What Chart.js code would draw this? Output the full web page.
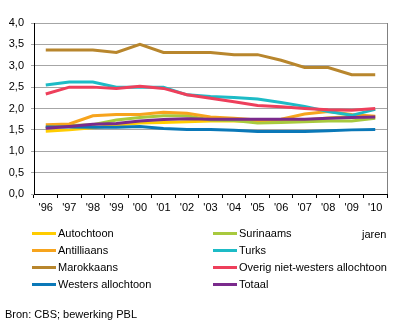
<!DOCTYPE html>
<html>
<head>
<meta charset="utf-8">
<script src="https://cdn.jsdelivr.net/npm/chart.js@4/dist/chart.umd.min.js"></script>
<style>
  html, body { margin: 0; padding: 0; background: #fff; }
  #wrap { position: relative; width: 396px; height: 325px; font-family: "Liberation Sans", Arial, sans-serif; font-size: 11px; color: #000; }
  #wrap canvas { position: absolute; left: 0; top: 0; }
  .leg { position: absolute; height: 14px; line-height: 14px; white-space: nowrap; }
  .leg .sw { position: absolute; left: 0; top: 6px; width: 24px; height: 3px; }
  .leg .tx { position: absolute; left: 26px; top: 0; }
  .txt { position: absolute; line-height: 14px; white-space: nowrap; }
</style>
</head>
<body>
<div id="wrap">
  <canvas id="c" width="396" height="325"></canvas>
  <div id="legend"></div>
  <div class="txt" style="left:362px; top:227px;">jaren</div>
  <div class="txt" style="left:5px; top:307px;">Bron: CBS; bewerking PBL</div>
</div>
<script>
const years = ["'96","'97","'98","'99","'00","'01","'02","'03","'04","'05","'06","'07","'08","'09","'10"];
const yTicks = [0, 0.5, 1, 1.5, 2, 2.5, 3, 3.5, 4];

const seriesNames = ["Autochtoon", "Surinaams", "Antilliaans", "Turks", "Marokkaans", "Overig niet-westers allochtoon", "Westers allochtoon", "Totaal"];
const seriesColors = ["#FFCC00", "#A8C93E", "#F7A41D", "#1DBBC6", "#B8862D", "#EE3F5B", "#0A78B8", "#7A2A8C"];

const autochtoon  = [1.47, 1.50, 1.55, 1.61, 1.66, 1.67, 1.69, 1.71, 1.71, 1.70, 1.70, 1.73, 1.78, 1.81, 1.80];
const surinaams   = [1.55, 1.60, 1.62, 1.73, 1.79, 1.83, 1.83, 1.73, 1.72, 1.66, 1.67, 1.69, 1.71, 1.71, 1.77];
const antilliaans = [1.62, 1.64, 1.83, 1.86, 1.86, 1.91, 1.89, 1.80, 1.77, 1.73, 1.75, 1.87, 1.93, 1.86, 1.82];
const turks       = [2.55, 2.62, 2.62, 2.50, 2.50, 2.50, 2.32, 2.28, 2.26, 2.22, 2.14, 2.05, 1.93, 1.84, 1.98];
const marokkaans  = [3.37, 3.37, 3.37, 3.31, 3.50, 3.31, 3.31, 3.31, 3.26, 3.26, 3.13, 2.96, 2.96, 2.79, 2.79];
const overig      = [2.34, 2.50, 2.50, 2.47, 2.52, 2.47, 2.32, 2.24, 2.16, 2.07, 2.04, 2.00, 1.97, 1.96, 2.00];
const westers     = [1.57, 1.57, 1.56, 1.56, 1.58, 1.53, 1.51, 1.51, 1.49, 1.46, 1.46, 1.46, 1.48, 1.50, 1.51];
const totaal      = [1.54, 1.58, 1.63, 1.65, 1.71, 1.74, 1.76, 1.75, 1.75, 1.75, 1.75, 1.75, 1.77, 1.79, 1.80];

const seriesData = [autochtoon, surinaams, antilliaans, turks, marokkaans, overig, westers, totaal];

const FONT = { family: '"Liberation Sans", Arial, sans-serif', size: 11 };

const datasets = seriesNames.map((n, i) => ({
  label: n,
  data: seriesData[i],
  borderColor: seriesColors[i],
  backgroundColor: seriesColors[i],
  borderWidth: 3,
  pointRadius: 0,
  tension: 0,
  fill: false,
  order: seriesNames.length - i
}));

const rightBorder = {
  id: 'rightBorder',
  afterDatasetsDraw(chart) {
    const a = chart.chartArea, ctx = chart.ctx;
    ctx.save();
    ctx.strokeStyle = '#808080';
    ctx.lineWidth = 1;
    ctx.beginPath();
    ctx.moveTo(Math.round(a.right) + 0.5, a.top);
    ctx.lineTo(Math.round(a.right) + 0.5, a.bottom);
    ctx.stroke();
    ctx.restore();
  }
};

new Chart(document.getElementById('c'), {
  type: 'line',
  data: { labels: years, datasets },
  plugins: [rightBorder],
  options: {
    responsive: false,
    animation: false,
    events: [],
    layout: { padding: { left: 0, top: 23, right: 9, bottom: 111 } },
    plugins: { legend: { display: false }, tooltip: { enabled: false } },
    scales: {
      x: {
        type: 'category',
        offset: true,
        grid: { display: true, drawOnChartArea: false, drawTicks: true, tickLength: 4, offset: true, color: '#000' },
        border: { display: true, color: '#000', width: 1 },
        ticks: { color: '#000', font: FONT, padding: 3, maxRotation: 0, autoSkip: false },
        afterFit(s) { s.height = 20; }
      },
      y: {
        min: 0, max: 4,
        afterBuildTicks(s) { s.ticks = yTicks.map(v => ({ value: v })); },
        grid: { color: '#A6A6A6', lineWidth: 1, drawTicks: true, tickLength: 3 },
        border: { display: true, color: '#000', width: 1 },
        ticks: { color: '#000', font: FONT, padding: 7, callback: v => v.toFixed(1).replace('.', ',') },
        afterFit(s) { s.width = 34; }
      }
    }
  }
});

// HTML legend built from the series arrays
const legend = document.getElementById('legend');
const colX = [32, 213];
const rowY = [226, 243, 260, 277];
seriesNames.forEach((n, i) => {
  const d = document.createElement('div');
  d.className = 'leg';
  d.style.left = colX[i % 2] + 'px';
  d.style.top = rowY[Math.floor(i / 2)] + 'px';
  d.innerHTML = '<span class="sw" style="background:' + seriesColors[i] + '"></span><span class="tx"></span>';
  d.querySelector('.tx').textContent = n;
  legend.appendChild(d);
});
</script>
</body>
</html>
